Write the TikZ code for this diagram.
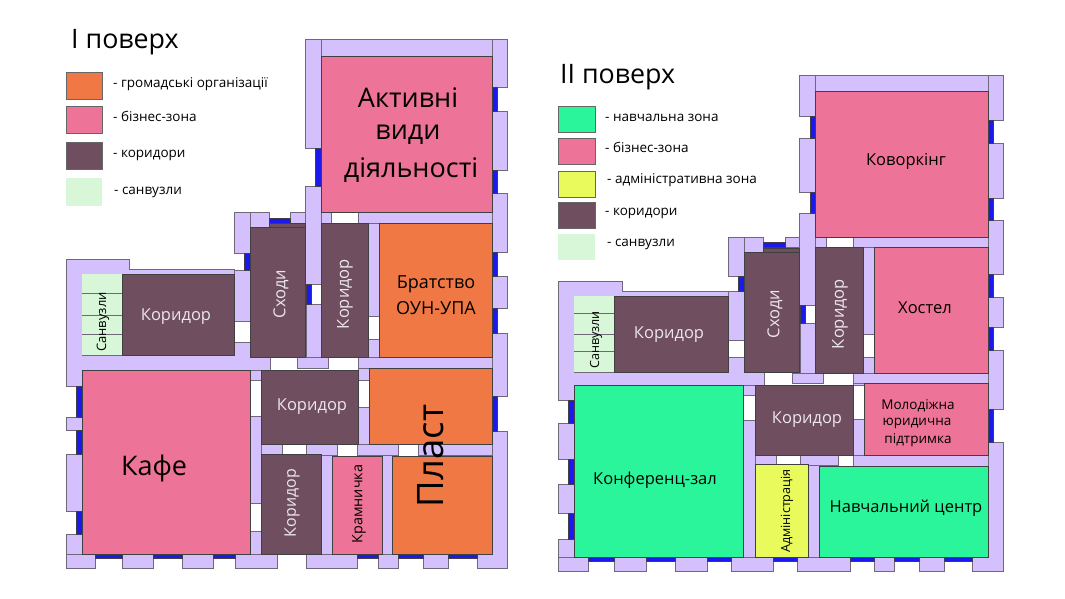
\documentclass[tikz,border=0pt]{standalone}
\usepackage{fontspec}
\setmainfont{Open Sans}
\definecolor{wallc}{HTML}{D4C0FC}
\definecolor{edgec}{HTML}{6E6878}
\definecolor{winc}{HTML}{1A1AEE}
\definecolor{pinkc}{HTML}{EE7399}
\definecolor{orangec}{HTML}{F07844}
\definecolor{corrc}{HTML}{6F4F5F}
\definecolor{wcc}{HTML}{D8F7D8}
\definecolor{seac}{HTML}{2BF59B}
\definecolor{yelc}{HTML}{E8FA5C}
\definecolor{paletxt}{HTML}{EDE6EA}
\tikzset{wallshape/.style={fill=wallc,draw=edgec,line width=.7pt}}
\newcommand{\wal}[4]{\path[wallshape] (#1,#2) rectangle (#3,#4);}
\newcommand{\win}[4]{\fill[winc,draw=edgec!60!black,line width=.4pt] (#1,#2) rectangle (#3,#4);}
\newcommand{\room}[5]{\fill[#5,draw=black!75,line width=.8pt] (#1,#2) rectangle (#3,#4);}
\newcommand{\swatch}[5]{\fill[#5,draw=black!60,line width=.8pt] (#1,#2) rectangle (#3,#4);}
\newcommand{\fs}[1]{\fontsize{#1}{#1}\selectfont}
\tikzset{lbl/.style={inner sep=0pt,align=center},
 lgd/.style={inner sep=0pt,anchor=west,font=\fs{13.5}},
 head/.style={inner sep=0pt,anchor=base west,font=\fs{26.8}},
 pale/.style={lbl,text=paletxt}}
\begin{document}
\begin{tikzpicture}[x=1pt,y=-1pt]
\useasboundingbox (0,0) rectangle (1065,598);
% ---------- floor I walls
\wal{305}{39}{507}{56}
\wal{305}{39}{321}{148}
\wal{305}{186}{321}{284}
\wal{306}{304}{321}{357}
\wal{492}{39}{507}{87}
\wal{492}{111}{507}{170}
\wal{492}{193}{507}{252}
\wal{492}{276}{507}{308}
\wal{492}{333}{507}{396}
\path[wallshape] (492,431) -- (507,431) -- (507,568) -- (477,568) -- (477,554) -- (492,554) -- cycle;
\wal{250}{212}{269}{227}
\wal{290}{212}{305}{223}
\wal{321}{212}{331}{223}
\wal{358}{212}{492}{223}
\wal{234}{212}{250}{253}
\wal{234}{270}{250}{321}
\path[wallshape] (66,259) -- (129,259) -- (129,269) -- (234,269) -- (234,274) -- (82,274) -- (82,355) -- (234,355) -- (234,342) -- (250,342) -- (250,357) -- (270,357) -- (270,370) -- (82,370) -- (82,386) -- (66,386) -- cycle;
\wal{297}{357}{328}{368}
\wal{358}{357}{492}{368}
\wal{250}{370}{261}{380}
\wal{250}{416}{261}{503}
\wal{250}{531}{261}{554}
\wal{358}{368}{369}{380}
\wal{358}{407}{369}{444}
\wal{368}{223}{379}{316}
\wal{368}{339}{379}{357}
\wal{261}{444}{282}{455}
\wal{306}{444}{337}{455}
\wal{357}{444}{398}{455}
\wal{418}{444}{492}{455}
\wal{321}{455}{332}{554}
\wal{382}{455}{392}{554}
\wal{66}{417}{82}{430}
\wal{66}{454}{82}{511}
\wal{66}{534}{82}{568}
\wal{66}{554}{95}{568}
\wal{122}{554}{153}{568}
\wal{182}{554}{213}{568}
\wal{235}{554}{277}{568}
\wal{306}{554}{357}{568}
\wal{378}{554}{398}{568}
\wal{423}{554}{448}{568}
% floor I windows
\win{315}{148}{321}{186}
\win{306}{284}{311}{304}
\win{492}{87}{497}{111}
\win{492}{170}{497}{193}
\win{492}{252}{497}{276}
\win{492}{308}{497}{333}
\win{492}{396}{497}{431}
\win{269}{218}{290}{223}
\win{244}{253}{250}{270}
\win{76}{386}{82}{417}
\win{76}{430}{82}{454}
\win{76}{511}{82}{534}
\win{95}{554}{122}{558}
\win{153}{554}{182}{558}
\win{213}{554}{235}{558}
\win{357}{554}{378}{558}
\win{398}{554}{423}{558}
\win{448}{554}{477}{558}
% floor I rooms
\room{321}{56}{492}{212}{pinkc}
\room{379}{223}{492}{357}{orangec}
\room{321}{223}{368}{357}{corrc}
\room{269}{223}{305}{227}{corrc}
\room{250}{227}{305}{357}{corrc}
\fill[wcc] (82,274) rectangle (122,355);
\foreach \yy in {293,315,334} \draw[edgec,line width=1pt] (82,\yy) -- (122,\yy);
\room{122}{274}{234}{355}{corrc}
\room{82}{370}{250}{554}{pinkc}
\room{261}{370}{358}{444}{corrc}
\room{369}{368}{492}{444}{orangec}
\room{261}{454}{321}{554}{corrc}
\room{332}{456}{382}{554}{pinkc}
\room{392}{456}{492}{554}{orangec}
% floor I labels
\node[lbl,font=\fs{27}] (t1) at (408,98) {Активні};
\node[lbl,font=\fs{27}] (t2) at (408,135) {види};
\node[lbl,font=\fs{27}] (t3) at (411,170) {діяльності};
\node[lbl,font=\fs{18}] (t4) at (436,284) {Братство};
\node[lbl,font=\fs{18}] (t5) at (436,308) {ОУН-УПА};
\node[pale,font=\fs{16.5}] (t6) at (176,317) {Коридор};
\node[pale,font=\fs{16.5},rotate=90] (t7) at (281,294) {Сходи};
\node[pale,font=\fs{16.5},rotate=90] (t8) at (345,294) {Коридор};
\node[lbl,font=\fs{13},rotate=90] (t9) at (103,322) {Санвузли};
\node[pale,font=\fs{16.5}] (t10) at (312,407) {Коридор};
\node[pale,font=\fs{16},rotate=90] (t11) at (292,503) {Коридор};
\node[lbl,font=\fs{14.4},rotate=90] (t12) at (359,504) {Крамничка};
\node[lbl,font=\fs{36.5},rotate=90] (t13) at (431,456) {Пласт};
\node[lbl,font=\fs{27},text=black] (t14) at (154,468) {Кафе};
% floor I legend + title
\node[head] (h1) at (71,48) {I поверх};
\swatch{66}{72}{102}{99}{orangec}
\swatch{66}{106}{102}{133}{pinkc}
\swatch{66}{142}{102}{169}{corrc}
\fill[wcc] (66,178) rectangle (102,206);
\node[lgd] (l1) at (113,84.5) {- громадські організації};
\node[lgd] (l2) at (113,116.5) {- бізнес-зона};
\node[lgd] (l3) at (113,155.5) {- коридори};
\node[lgd] (l4) at (114,192.5) {- санвузли};
% ---------- floor II walls
\wal{799}{75}{1003}{91}
\wal{799}{75}{815}{116}
\wal{799}{138}{815}{192}
\wal{799}{213}{815}{305}
\wal{800}{323}{815}{373}
\wal{988}{75}{1003}{120}
\wal{988}{143}{1003}{198}
\wal{988}{220}{1003}{274}
\wal{988}{297}{1003}{327}
\wal{988}{350}{1003}{409}
\path[wallshape] (988,442) -- (1003,442) -- (1003,571) -- (972,571) -- (972,557) -- (988,557) -- cycle;
\wal{744}{237}{763}{252}
\wal{785}{237}{799}{247}
\wal{815}{237}{826}{247}
\wal{853}{237}{988}{247}
\wal{728}{237}{744}{276}
\wal{728}{291}{744}{340}
\path[wallshape] (558,281) -- (622,281) -- (622,291) -- (728,291) -- (728,296) -- (574,296) -- (574,372) -- (728,372) -- (728,357) -- (744,357) -- (744,372) -- (764,372) -- (764,385) -- (574,385) -- (574,400) -- (558,400) -- cycle;
\wal{792}{373}{823}{383}
\wal{853}{373}{988}{383}
\wal{743}{385}{755}{395}
\wal{743}{420}{755}{557}
\wal{853}{383}{864}{385}
\wal{853}{419}{864}{455}
\wal{863}{247}{874}{334}
\wal{863}{357}{874}{373}
\wal{755}{455}{776}{465}
\wal{800}{455}{838}{465}
\wal{853}{455}{988}{466}
\wal{808}{465}{819}{557}
\wal{558}{423}{574}{459}
\wal{558}{484}{574}{513}
\wal{558}{539}{574}{571}
\wal{558}{557}{588}{571}
\wal{614}{557}{646}{571}
\wal{675}{557}{707}{571}
\wal{731}{557}{773}{571}
\wal{797}{557}{850}{571}
\wal{874}{557}{894}{571}
\wal{919}{557}{944}{571}
% floor II windows
\win{810}{116}{815}{138}
\win{810}{192}{815}{213}
\win{800}{305}{805}{323}
\win{988}{120}{993}{143}
\win{988}{198}{993}{220}
\win{988}{274}{993}{297}
\win{988}{327}{993}{350}
\win{988}{409}{993}{442}
\win{763}{242}{785}{247}
\win{738}{276}{744}{291}
\win{568}{400}{574}{423}
\win{568}{459}{574}{484}
\win{568}{513}{574}{539}
\win{588}{557}{614}{561}
\win{646}{557}{675}{561}
\win{707}{557}{731}{561}
\win{773}{557}{797}{561}
\win{850}{557}{874}{561}
\win{894}{557}{919}{561}
\win{944}{557}{972}{561}
% floor II rooms
\room{815}{91}{988}{237}{pinkc}
\room{874}{247}{988}{373}{pinkc}
\room{815}{247}{863}{373}{corrc}
\room{763}{248}{799}{252}{corrc}
\room{744}{252}{799}{372}{corrc}
\fill[wcc] (574,296) rectangle (614,372);
\foreach \yy in {313,334,351} \draw[edgec,line width=1pt] (574,\yy) -- (614,\yy);
\room{614}{296}{728}{372}{corrc}
\room{574}{385}{743}{557}{seac}
\room{755}{385}{853}{455}{corrc}
\room{864}{383}{988}{455}{pinkc}
\room{755}{464}{808}{557}{yelc}
\room{819}{466}{988}{557}{seac}
% floor II labels
\node[lbl,font=\fs{16.5}] (u1) at (906,161) {Коворкінг};
\node[lbl,font=\fs{16.5}] (u2) at (925,308) {Хостел};
\node[pale,font=\fs{16.5},rotate=90] (u3) at (775,314) {Сходи};
\node[pale,font=\fs{16.5},rotate=90] (u4) at (840,314) {Коридор};
\node[pale,font=\fs{16.5}] (u5) at (669,335) {Коридор};
\node[lbl,font=\fs{12.6},rotate=90] (u6) at (596,340) {Санвузли};
\node[pale,font=\fs{16.5}] (u7) at (807,420) {Коридор};
\node[lbl,font=\fs{13.5}] (u8) at (918,406) {Молодіжна};
\node[lbl,font=\fs{13.5}] (u9) at (917,423) {юридична};
\node[lbl,font=\fs{13.5}] (u10) at (918,440) {підтримка};
\node[lbl,font=\fs{16.5}] (u11) at (655,480) {Конференц-зал};
\node[lbl,font=\fs{12.6},rotate=90] (u12) at (787,511) {Адміністрація};
\node[lbl,font=\fs{16.5}] (u13) at (906,508) {Навчальний центр};
% floor II legend + title
\node[head] (h2) at (560,83) {II поверх};
\swatch{558}{106}{595}{132}{seac}
\swatch{558}{138}{595}{164}{pinkc}
\swatch{558}{171}{595}{197}{yelc}
\swatch{558}{202}{595}{228}{corrc}
\fill[wcc] (558,234) rectangle (595,260);
\node[lgd] (m1) at (605,117.5) {- навчальна зона};
\node[lgd] (m2) at (605,147.5) {- бізнес-зона};
\node[lgd] (m3) at (607,180.5) {- адміністративна зона};
\node[lgd] (m4) at (605,213.5) {- коридори};
\node[lgd] (m5) at (607,244.5) {- санвузли};
\end{tikzpicture}
\end{document}
